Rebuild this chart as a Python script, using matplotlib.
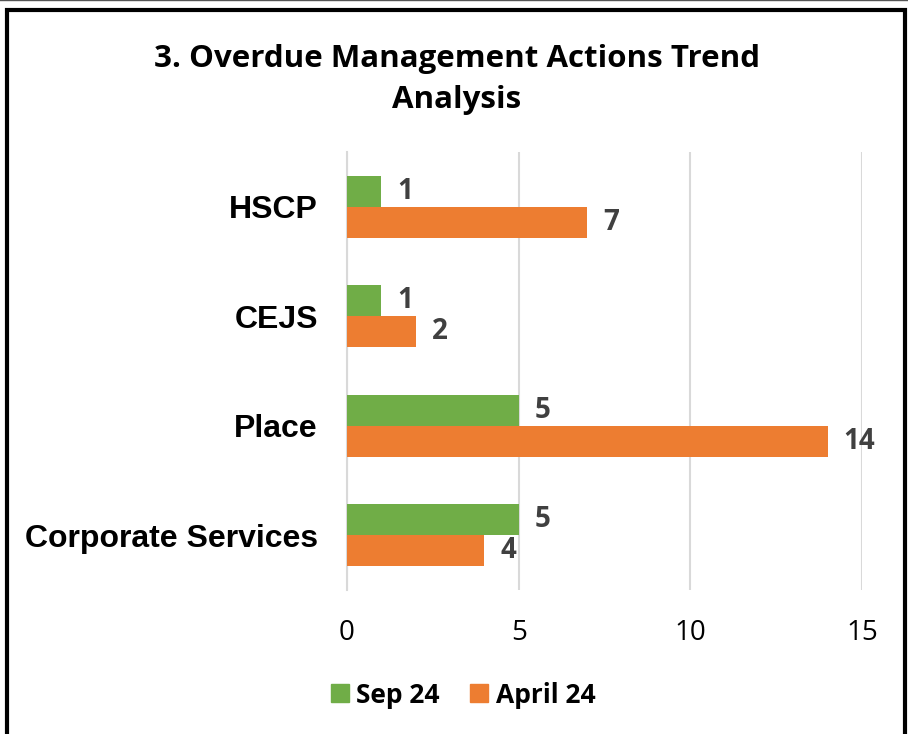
import matplotlib.pyplot as plt
import numpy as np
from matplotlib.patches import Rectangle, Patch

# data
categories = ["HSCP", "CEJS", "Place", "Corporate Services"]
sep24 = [1, 1, 5, 5]
april24 = [7, 2, 14, 4]
xticks = [0, 5, 10, 15]

green = "#70ad47"
orange = "#ed7d31"
label_col = "#404040"

fig = plt.figure(figsize=(9.08, 7.34), dpi=100)
ax = fig.add_axes([0.3822, 0.1962, 0.5672, 0.5967])

# top category first
y = np.arange(len(categories))[::-1]
h = 0.283
b1 = ax.barh(y + h / 2, sep24, height=h, color=green, zorder=3)
b2 = ax.barh(y - h / 2, april24, height=h, color=orange, zorder=3)

for bars, vals in [(b1, sep24), (b2, april24)]:
    for bar, v in zip(bars, vals):
        ax.annotate(str(v), (bar.get_width(), bar.get_y() + bar.get_height() / 2),
                    xytext=(11.5, 0), textcoords="offset points", va="center", ha="left",
                    fontsize=20, fontweight="bold", color=label_col, family="Open Sans")

ax.set_xlim(0, 15)
ax.set_ylim(-0.5, 3.5)
ax.set_xticks(xticks)
ax.set_xticklabels([str(t) for t in xticks], fontsize=20, family="Open Sans")
ax.set_yticks(y)
ax.set_yticklabels(categories, fontsize=23, fontweight="bold", family="Liberation Sans")
ax.tick_params(axis="x", length=0, pad=21)
ax.tick_params(axis="y", length=0, pad=21)
ax.grid(axis="x", color="#d9d9d9", linewidth=1.5, zorder=0)
for s in ["top", "right", "bottom"]:
    ax.spines[s].set_visible(False)
ax.spines["left"].set_color("#d9d9d9")
ax.spines["left"].set_linewidth(1.5)

fig.text(0.503, 0.892, "3. Overdue Management Actions Trend\nAnalysis", ha="center", va="center",
         fontsize=22.5, fontweight="bold", family="Open Sans", linespacing=1.5)

handles = [Patch(color=green, label="Sep 24"), Patch(color=orange, label="April 24")]
leg = fig.legend(handles=handles, loc="center", bbox_to_anchor=(0.51, 0.053), ncol=2,
                 frameon=False, prop={"family": "Open Sans", "weight": "bold", "size": 19},
                 handlelength=0.68, handleheight=0.68, handletextpad=0.3, columnspacing=1.14)

# outer frame
fig.patches.append(Rectangle((7 / 908, -0.05), 898 / 908, 1 - 10 / 734 + 0.05,
                             transform=fig.transFigure, fill=False, edgecolor="black",
                             linewidth=3, zorder=10))
fig.add_artist(plt.Line2D([0, 1], [0.9995, 0.9995], transform=fig.transFigure,
                          color="#555555", linewidth=1))

fig.savefig("out.png", dpi=100)
